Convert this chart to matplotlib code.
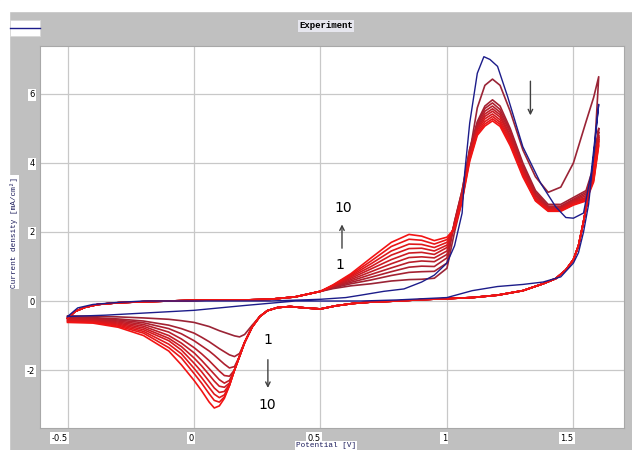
import numpy as np
import matplotlib.pyplot as plt
from matplotlib.patches import Rectangle
from matplotlib.lines import Line2D

# ---- data (V vs. mA/cm2) ----
# first scan (blue)
blue_v = [-0.5, -0.46, -0.4, -0.3, -0.2, 0.0, 0.3, 0.5, 0.6, 0.66, 0.75, 0.83, 0.9, 0.95,
          1.0, 1.03, 1.06, 1.07, 1.09, 1.12, 1.146, 1.17, 1.2, 1.24, 1.3, 1.37, 1.43, 1.47,
          1.5, 1.54, 1.57, 1.6,
          1.58, 1.56, 1.54, 1.52, 1.5, 1.45, 1.38, 1.3, 1.2, 1.1, 1.0, 0.8, 0.66, 0.4,
          0.2, 0.0, -0.2, -0.35, -0.5]
blue_i = [-0.45, -0.2, -0.1, -0.04, 0.0, 0.0, 0.0, 0.05, 0.1, 0.17, 0.28, 0.35, 0.55, 0.75,
          1.1, 1.6, 2.55, 3.7, 5.16, 6.6, 7.08, 7.0, 6.8, 5.92, 4.47, 3.42, 2.73, 2.42,
          2.4, 2.55, 3.7, 5.7,
          4.2, 2.8, 2.0, 1.4, 1.1, 0.7, 0.55, 0.48, 0.42, 0.3, 0.1, 0.03, 0.0, 0.0,
          -0.13, -0.27, -0.35, -0.41, -0.45]

# red cycles 1..10, forward scan, common start
fwd_v = [-0.5, -0.47, -0.43, -0.38, -0.3, -0.2, -0.1, 0.0, 0.1, 0.2, 0.3, 0.4, 0.5]
fwd_i = [-0.5, -0.3, -0.18, -0.1, -0.05, -0.02, 0.0, 0.02, 0.03, 0.03, 0.05, 0.12, 0.28]

# shoulder near 0.85 V, grows with cycle number
hump_v = [0.55, 0.62, 0.7, 0.78, 0.85, 0.9, 0.95, 1.0]
hump_i = [
    [0.36, 0.44, 0.5, 0.58, 0.62, 0.63, 0.66, 0.95],
    [0.38, 0.5, 0.61, 0.74, 0.83, 0.85, 0.86, 1.1],
    [0.4, 0.54, 0.69, 0.85, 0.98, 1.01, 1.0, 1.25],
    [0.41, 0.58, 0.77, 0.96, 1.12, 1.16, 1.14, 1.35],
    [0.42, 0.62, 0.85, 1.08, 1.26, 1.28, 1.25, 1.45],
    [0.43, 0.66, 0.93, 1.2, 1.39, 1.41, 1.35, 1.55],
    [0.44, 0.7, 1.0, 1.33, 1.52, 1.53, 1.45, 1.62],
    [0.45, 0.73, 1.08, 1.45, 1.65, 1.64, 1.55, 1.7],
    [0.46, 0.76, 1.16, 1.58, 1.79, 1.76, 1.65, 1.78],
    [0.47, 0.79, 1.25, 1.7, 1.93, 1.88, 1.75, 1.85],
]

# main oxidation peak, falls with cycle number
peak_v = [1.03, 1.06, 1.09, 1.12, 1.15, 1.18, 1.21, 1.25, 1.3, 1.35, 1.4, 1.45, 1.5, 1.55, 1.58, 1.6]
peak_i = [
    [2.0, 2.9, 4.3, 5.6, 6.25, 6.43, 6.25, 5.5, 4.38, 3.6, 3.15, 3.3, 4.0, 5.2, 5.9, 6.5],
    [2.3, 3.2, 4.4, 5.2, 5.65, 5.83, 5.65, 5.0, 4.0, 3.2, 2.8, 2.8, 3.0, 3.2, 3.9, 5.0],
    [2.3, 3.2, 4.4, 5.15, 5.58, 5.74, 5.55, 4.95, 3.95, 3.15, 2.75, 2.75, 2.95, 3.15, 3.8, 4.9],
    [2.25, 3.15, 4.35, 5.1, 5.5, 5.65, 5.47, 4.88, 3.9, 3.1, 2.72, 2.72, 2.92, 3.1, 3.75, 4.8],
    [2.25, 3.1, 4.3, 5.05, 5.42, 5.57, 5.4, 4.8, 3.85, 3.05, 2.7, 2.7, 2.9, 3.05, 3.7, 4.75],
    [2.2, 3.1, 4.25, 5.0, 5.35, 5.5, 5.33, 4.75, 3.8, 3.0, 2.68, 2.68, 2.88, 3.0, 3.65, 4.7],
    [2.2, 3.05, 4.2, 4.95, 5.28, 5.42, 5.25, 4.68, 3.75, 2.98, 2.66, 2.66, 2.85, 2.98, 3.6, 4.65],
    [2.15, 3.0, 4.15, 4.9, 5.2, 5.35, 5.18, 4.62, 3.7, 2.95, 2.64, 2.64, 2.82, 2.95, 3.55, 4.6],
    [2.1, 2.95, 4.1, 4.85, 5.13, 5.28, 5.12, 4.56, 3.65, 2.92, 2.62, 2.62, 2.8, 2.92, 3.5, 4.55],
    [2.1, 2.9, 4.05, 4.8, 5.07, 5.22, 5.06, 4.5, 3.6, 2.9, 2.6, 2.6, 2.78, 2.9, 3.45, 4.5],
]

# reverse scan, common part
rev_v = [1.58, 1.565, 1.54, 1.52, 1.5, 1.47, 1.43, 1.38, 1.3, 1.2, 1.1, 1.0, 0.9, 0.8,
         0.7, 0.63, 0.56, 0.5, 0.44, 0.38, 0.33, 0.29, 0.26]
rev_i = [3.9, 3.3, 2.3, 1.6, 1.2, 0.9, 0.65, 0.5, 0.3, 0.17, 0.1, 0.07, 0.04, 0.0,
         -0.03, -0.07, -0.14, -0.23, -0.2, -0.16, -0.19, -0.28, -0.45]

# reduction peak near 0.1 V, deepens with cycle number
cath_v = [0.23, 0.2, 0.18, 0.16, 0.14, 0.12, 0.1, 0.08, 0.06, 0.03, 0.0, -0.05, -0.1,
          -0.2, -0.3, -0.4, -0.5]
cath_i = [
    [-0.7, -0.97, -1.04, -1.01, -0.96, -0.91, -0.86, -0.8, -0.74, -0.68, -0.62, -0.57, -0.53, -0.49, -0.46, -0.44, -0.43],
    [-0.75, -1.2, -1.52, -1.61, -1.56, -1.47, -1.38, -1.28, -1.18, -1.05, -0.93, -0.8, -0.7, -0.58, -0.52, -0.48, -0.46],
    [-0.75, -1.2, -1.6, -1.9, -1.94, -1.83, -1.7, -1.57, -1.45, -1.3, -1.15, -0.95, -0.8, -0.63, -0.55, -0.5, -0.48],
    [-0.75, -1.2, -1.6, -2.0, -2.18, -2.16, -2.03, -1.88, -1.73, -1.53, -1.35, -1.1, -0.9, -0.68, -0.58, -0.52, -0.5],
    [-0.75, -1.2, -1.6, -2.0, -2.3, -2.38, -2.28, -2.12, -1.96, -1.72, -1.5, -1.22, -1.0, -0.73, -0.61, -0.54, -0.52],
    [-0.75, -1.2, -1.6, -2.0, -2.38, -2.5, -2.47, -2.32, -2.14, -1.88, -1.65, -1.32, -1.08, -0.78, -0.64, -0.56, -0.54],
    [-0.75, -1.2, -1.6, -2.0, -2.42, -2.62, -2.65, -2.52, -2.33, -2.05, -1.8, -1.42, -1.15, -0.83, -0.67, -0.58, -0.56],
    [-0.75, -1.2, -1.6, -2.0, -2.44, -2.72, -2.8, -2.7, -2.51, -2.22, -1.95, -1.53, -1.25, -0.88, -0.7, -0.6, -0.58],
    [-0.75, -1.2, -1.6, -2.0, -2.45, -2.78, -2.93, -2.88, -2.69, -2.38, -2.1, -1.65, -1.35, -0.93, -0.73, -0.62, -0.6],
    [-0.75, -1.2, -1.6, -2.0, -2.45, -2.82, -3.04, -3.1, -2.93, -2.6, -2.3, -1.85, -1.45, -1.0, -0.76, -0.64, -0.62],
]

xticks = [-0.5, 0, 0.5, 1, 1.5]
xtick_labels = ['-0.5', '0', '0.5', '1', '1.5']
yticks = [-2, 0, 2, 4, 6]
ytick_labels = ['-2', '0', '2', '4', '6']

W, H = 632, 450
fig = plt.figure(figsize=(W / 100, H / 100), dpi=100, facecolor='#c0c0c0')
fig.add_artist(Rectangle((0, 1 - 11 / H), 1, 11 / H, transform=fig.transFigure,
                         color='white', zorder=0))
fig.add_artist(Rectangle((0, 0), 9 / W, 1, transform=fig.transFigure,
                         color='white', zorder=0))

ax = fig.add_axes([40 / W, 22 / H, 584 / W, 382 / H])
ax.set_facecolor('white')

ax.plot(blue_v, blue_i, color='#1c1c8a', lw=1.0, zorder=3)

reds = plt.matplotlib.colors.LinearSegmentedColormap.from_list('r', ['#9a2436', '#f21414'])
for k in range(10):
    v = fwd_v + hump_v + peak_v + rev_v + cath_v
    i = fwd_i + hump_i[k] + peak_i[k] + rev_i + cath_i[k]
    ax.plot(v, i, color=reds(k / 9), lw=1.2, zorder=2, solid_joinstyle='round')

ax.set_xlim(-0.609, 1.70)
ax.set_ylim(-3.68, 7.39)
ax.set_xticks(xticks)
ax.set_xticklabels(xtick_labels)
ax.set_yticks(yticks)
ax.set_yticklabels(ytick_labels)
ax.grid(True, color='#c8c8c8', lw=0.9)
ax.set_axisbelow(True)
ax.tick_params(length=0, labelsize=6, pad=4)
for lab in ax.get_xticklabels():
    lab.set_ha('right')
    lab.set_bbox(dict(facecolor='white', edgecolor='none', pad=1))
for lab in ax.get_yticklabels():
    lab.set_bbox(dict(facecolor='white', edgecolor='none', pad=1))
for s in ax.spines.values():
    s.set_color('#a8a8a8')
    s.set_linewidth(0.8)

# annotations
arrow = dict(arrowstyle='->', color='#404040', lw=1, mutation_scale=8)
ax.annotate('', xy=(0.585, 2.3), xytext=(0.585, 1.45), arrowprops=arrow)
ax.text(0.59, 2.7, '10', fontsize=10, ha='center', va='center')
ax.text(0.578, 1.04, '1', fontsize=10, ha='center', va='center')
ax.annotate('', xy=(0.292, -2.6), xytext=(0.292, -1.62), arrowprops=arrow)
ax.text(0.29, -1.13, '1', fontsize=10, ha='center', va='center')
ax.text(0.29, -3.0, '10', fontsize=10, ha='center', va='center')
ax.annotate('', xy=(1.33, 5.3), xytext=(1.33, 6.45), arrowprops=arrow)

# title, axis labels, legend box
fig.text(326 / W, 1 - 26 / H, 'Experiment', family='Liberation Mono', weight='bold',
         fontsize=6.5, ha='center', va='center',
         bbox=dict(facecolor='#e6e6ee', edgecolor='none', pad=1))
fig.text(14 / W, 1 - 232 / H, 'Current density [mA/cm²]', family='Liberation Mono',
         fontsize=5.5, rotation=90, ha='center', va='center', color='#1a1a5a',
         bbox=dict(facecolor='white', edgecolor='none', pad=1))
fig.text(326 / W, 1 / H, 'Potential [V]', family='Liberation Mono',
         fontsize=5.5, ha='center', va='bottom', color='#1a1a5a',
         bbox=dict(facecolor='white', edgecolor='none', pad=0.5))
fig.add_artist(Rectangle((10 / W, 1 - 36 / H), 30 / W, 16 / H, transform=fig.transFigure,
                         facecolor='white', edgecolor='#d8d8d8', lw=0.6))
fig.add_artist(Line2D([10 / W, 40 / W], [1 - 28 / H, 1 - 28 / H], transform=fig.transFigure,
                      color='#1c1c8a', lw=1))

fig.savefig('out.png', dpi=100, facecolor=fig.get_facecolor())
